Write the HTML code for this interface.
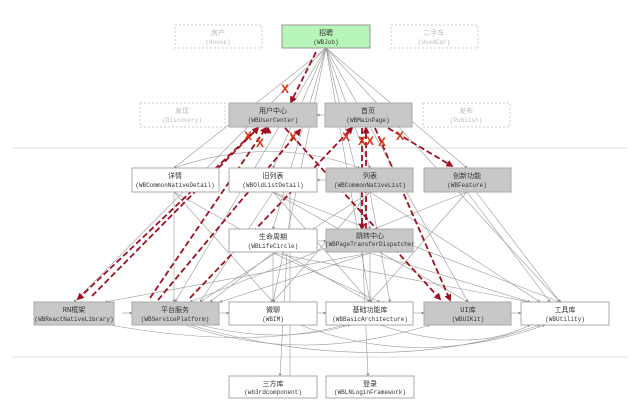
<!DOCTYPE html>
<html><head><meta charset="utf-8"><style>
html,body{margin:0;padding:0;background:#fff;}
svg{display:block;font-family:"Liberation Mono","Noto Sans CJK SC",monospace;}
.b{stroke:#aaa;stroke-width:1;}
.g{fill:#c8c8c8;}.w{fill:#fff;}.d{fill:#fff;stroke:#ccc;stroke-dasharray:2,2;}
.t1{font-size:7px;fill:#333;text-anchor:middle;}
.t2{font-size:6px;fill:#333;text-anchor:middle;}
.gl{stroke:#999;stroke-width:0.6;fill:none;marker-end:url(#ga);}
.rl{stroke:#a01020;stroke-width:1.8;stroke-dasharray:6,3;fill:none;marker-end:url(#ra);}
.x{fill:#e03010;font-size:12px;font-weight:bold;text-anchor:middle;font-family:"Liberation Sans",sans-serif;}
</style></head><body>
<svg width="640" height="404" viewBox="0 0 640 404">
<defs>
<marker id="ga" markerWidth="5" markerHeight="5" refX="4" refY="2.5" orient="auto"><path d="M0,0L5,2.5L0,5z" fill="#888"/></marker>
<marker id="ra" markerWidth="4" markerHeight="4" refX="3" refY="2" orient="auto"><path d="M0,0L4,2L0,4z" fill="#a01020"/></marker>
</defs>
<line x1="12" y1="148" x2="628" y2="148" stroke="#ddd"/>
<line x1="12" y1="357" x2="628" y2="357" stroke="#ddd"/>
<!-- gray lines -->
<g>
<path class="gl" d="M326,48L174,168"/><path class="gl" d="M326,48L273,168"/><path class="gl" d="M326,48L370,168"/>
<path class="gl" d="M326,48L467,168"/><path class="gl" d="M326,48L273,229"/><path class="gl" d="M326,48L370,229"/>
<path class="gl" d="M326,48L175,302"/><path class="gl" d="M326,48L273,302"/><path class="gl" d="M326,48L370,302"/>
<path class="gl" d="M326,48L468,302"/><path class="gl" d="M326,48L560,302"/><path class="gl" d="M326,48L74,302"/>
<path class="gl" d="M325,115L317,115"/>
<path class="gl" d="M326,180L317,180"/><path class="gl" d="M317,241L326,241"/>
<path class="gl" d="M174,192L174,302"/><path class="gl" d="M174,192L273,302"/><path class="gl" d="M174,192L370,302"/>
<path class="gl" d="M273,192L200,302"/><path class="gl" d="M273,192L468,302"/><path class="gl" d="M273,192L560,302"/><path class="gl" d="M273,192L370,302"/>
<path class="gl" d="M370,192L200,302"/><path class="gl" d="M370,192L273,302"/><path class="gl" d="M370,192L390,302"/><path class="gl" d="M370,192L540,302"/>
<path class="gl" d="M467,192L190,302"/><path class="gl" d="M467,192L370,302"/><path class="gl" d="M467,192L550,302"/>
<path class="gl" d="M273,253L273,302"/><path class="gl" d="M273,253L210,302"/><path class="gl" d="M273,253L380,302"/><path class="gl" d="M273,253L530,302"/>
<path class="gl" d="M370,253L370,302"/><path class="gl" d="M370,253L220,302"/><path class="gl" d="M370,253L530,302"/><path class="gl" d="M370,253L105,302"/>
<path class="gl" d="M290,192L290,387"/><path class="gl" d="M360,192L368,376"/><path class="gl" d="M287,253L280,376"/>
<path class="gl" d="M122,313L132,313"/><path class="gl" d="M219,313L229,313"/><path class="gl" d="M316,313L326,313"/><path class="gl" d="M413,313L424,313"/><path class="gl" d="M511,313L521,313"/>
<path class="gl" d="M110,325Q250,350 345,325"/><path class="gl" d="M185,325Q300,365 430,325"/><path class="gl" d="M190,325Q380,380 540,325"/>
<path class="gl" d="M200,325Q280,345 350,325"/><path class="gl" d="M300,325Q420,370 545,325"/><path class="gl" d="M380,325Q470,355 530,325"/>
<path class="gl" d="M174,168Q270,135 360,168"/>
<path class="gl" d="M560,320L560,300"/><path class="gl" d="M467,180L560,302"/>
</g>
<!-- red dashed -->
<path class="rl" d="M316,52L291,102"/>
<path class="rl" d="M258,128L78,299"/><path class="rl" d="M92,296L258,128"/>
<path class="rl" d="M150,298L266,128"/><path class="rl" d="M268,130L268,128"/>
<path class="rl" d="M285,128L440,299"/>
<path class="rl" d="M190,298L352,128"/>
<path class="rl" d="M362,128L362,229"/><path class="rl" d="M366,229L366,128"/>
<path class="rl" d="M375,128L450,300"/>
<path class="rl" d="M388,128L452,166"/>
<path class="rl" d="M158,300L300,130"/>
<text class="x" x="285" y="93">X</text><text class="x" x="248" y="140">X</text><text class="x" x="260" y="147">X</text>
<text class="x" x="293" y="141">X</text><text class="x" x="346" y="141">X</text><text class="x" x="362" y="145">X</text>
<text class="x" x="370" y="145">X</text><text class="x" x="382" y="146">X</text><text class="x" x="400" y="140">X</text>
<!-- boxes -->
<g class="b">
<rect class="d" x="175" y="25" width="87" height="23"/>
<rect x="282" y="25" width="88" height="23" fill="#b8f5b8" stroke="#999"/>
<rect class="d" x="391" y="25" width="87" height="23"/>
<rect class="d" x="140" y="103" width="85" height="24"/>
<rect class="g" x="229" y="103" width="88" height="24"/>
<rect class="g" x="325" y="103" width="87" height="24"/>
<rect class="d" x="423" y="103" width="87" height="24"/>
<rect class="w" x="132" y="168" width="87" height="24"/>
<rect class="w" x="229" y="168" width="88" height="24"/>
<rect class="g" x="326" y="168" width="87" height="24"/>
<rect class="g" x="424" y="168" width="87" height="24"/>
<rect class="w" x="229" y="229" width="88" height="23"/>
<rect class="g" x="326" y="229" width="87" height="23"/>
<rect class="g" x="34" y="302" width="80" height="23"/>
<rect class="g" x="132" y="302" width="87" height="23"/>
<rect class="w" x="229" y="302" width="88" height="23"/>
<rect class="w" x="326" y="302" width="87" height="23"/>
<rect class="g" x="424" y="302" width="87" height="23"/>
<rect class="w" x="521" y="302" width="88" height="23"/>
<rect class="w" x="229" y="376" width="88" height="22"/>
<rect class="w" x="326" y="376" width="88" height="22"/>
</g>
<g>
<text class="t1" x="218" y="35" fill="#bbb" style="fill:#bbb">房产</text><text class="t2" x="218" y="44" style="fill:#bbb">(House)</text>
<text class="t1" x="326" y="35">招聘</text><text class="t2" x="326" y="44">(WBJob)</text>
<text class="t1" x="434" y="35" style="fill:#bbb">二手车</text><text class="t2" x="434" y="44" style="fill:#bbb">(UsedCar)</text>
<text class="t1" x="182" y="113" style="fill:#bbb">发现</text><text class="t2" x="182" y="122" style="fill:#bbb">(Discovery)</text>
<text class="t1" x="273" y="113">用户中心</text><text class="t2" x="273" y="122">(WBUserCenter)</text>
<text class="t1" x="368" y="113">首页</text><text class="t2" x="368" y="122">(WBMainPage)</text>
<text class="t1" x="466" y="113" style="fill:#bbb">发布</text><text class="t2" x="466" y="122" style="fill:#bbb">(Publish)</text>
<text class="t1" x="175" y="178">详情</text><text class="t2" x="175" y="187">(WBCommonNativeDetail)</text>
<text class="t1" x="273" y="178">旧列表</text><text class="t2" x="273" y="187">(WBOldListDetail)</text>
<text class="t1" x="370" y="178">列表</text><text class="t2" x="370" y="187">(WBCommonNativeList)</text>
<text class="t1" x="467" y="178">创新功能</text><text class="t2" x="467" y="187">(WBFeature)</text>
<text class="t1" x="273" y="239">生命周期</text><text class="t2" x="273" y="248">(WBLifeCircle)</text>
<text class="t1" x="370" y="238">跳转中心</text><text class="t2" x="370" y="246">(WBPageTransferDispatcher</text>
<text class="t1" x="74" y="312">RN框架</text><text class="t2" x="74" y="321">(WBReactNativeLibrary)</text>
<text class="t1" x="175" y="312">平台服务</text><text class="t2" x="175" y="321">(WBServicePlatform)</text>
<text class="t1" x="273" y="312">微聊</text><text class="t2" x="273" y="321">(WBIM)</text>
<text class="t1" x="370" y="312">基础功能库</text><text class="t2" x="370" y="321">(WBBasicArchitecture)</text>
<text class="t1" x="468" y="312">UI库</text><text class="t2" x="468" y="321">(WBUIKit)</text>
<text class="t1" x="565" y="312">工具库</text><text class="t2" x="565" y="321">(WBUtility)</text>
<text class="t1" x="273" y="386">三方库</text><text class="t2" x="273" y="394">(wb3rdcomponent)</text>
<text class="t1" x="370" y="386">登录</text><text class="t2" x="370" y="394">(WBLNLoginFramework)</text>
</g>
</svg>
</body></html>
